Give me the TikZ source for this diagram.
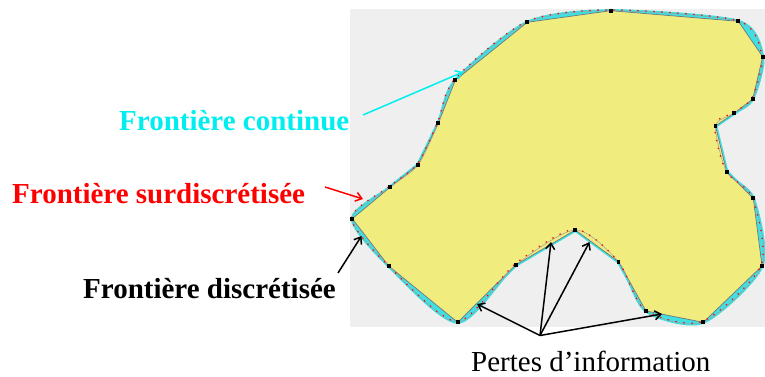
\documentclass[tikz,border=0pt]{standalone}
\usepackage{fontspec}
\setmainfont{Liberation Serif}
\usetikzlibrary{arrows.meta}
\definecolor{bggray}{RGB}{239,239,239}
\definecolor{shapeyellow}{RGB}{240,236,126}
\definecolor{contcyan}{RGB}{64,224,226}
\definecolor{labelcyan}{RGB}{0,238,240}
\definecolor{edgegray}{RGB}{110,120,125}
\tikzset{
  lbl/.style={anchor=base west, inner sep=0pt, font=\fontsize{29}{34}\selectfont\bfseries},
  plainlbl/.style={anchor=base west, inner sep=0pt, font=\fontsize{29}{34}\selectfont},
  ptr/.style={line width=1.5pt, -{Straight Barb[length=6pt,width=9pt]}},
  vtx/.style={rectangle, fill=black, minimum size=3.8pt, inner sep=0pt},
}
\def\contcurve{plot[smooth cycle, tension=0.45] coordinates {(610.7,10.7) (738.3,21.3) (762.7,56.7) (752.7,99) (734,113.3) (715.5,126) (726.7,172) (753.3,198.3) (762,266) (703.3,322.3) (646,311) (618.5,261.7) (575.3,230) (515.7,265) (457.7,322.3) (388.7,266) (352.3,218.7) (390,187.3) (418,165) (438.3,123.3) (455.3,80.3) (527.3,22.3)}}
\def\discpoly{(610.7,10.7) -- (738.3,21.3) -- (762.7,56.7) -- (752.7,99) -- (734,113.3) -- (715.5,126) -- (726.7,172) -- (753.3,198.3) -- (762,266) -- (703.3,322.3) -- (646,311) -- (618.5,261.7) -- (575.3,230) -- (515.7,265) -- (457.7,322.3) -- (388.7,266) -- (352.3,218.7) -- (390,187.3) -- (418,165) -- (438.3,123.3) -- (455.3,80.3) -- (527.3,22.3) -- cycle}
\begin{document}
\begin{tikzpicture}[x=1pt,y=-1pt]
\useasboundingbox (0,0) rectangle (765,377);
\fill[bggray] (350,9) rectangle (765,326.5);
\begin{scope}
  \clip (350,9) rectangle (765,326.5);
  \filldraw[contcyan, line width=3pt, line join=round] \contcurve;
  \draw[contcyan, line width=3.6pt, line join=round] \discpoly;
  \fill[shapeyellow] \discpoly;
  \draw[edgegray, line width=0.7pt] \discpoly;
  \draw[edgegray!70, line width=0.5pt] \contcurve;
  \draw[red, line width=1.8pt, line cap=round, dash pattern=on 0pt off 8pt, shift={(-0.8,-0.8)}] \contcurve;
\end{scope}
\foreach \x/\y [count=\i] in {610.7/10.7, 738.3/21.3, 762.7/56.7, 752.7/99, 734/113.3, 715.5/126, 726.7/172, 753.3/198.3, 762/266, 703.3/322.3, 646/311, 618.5/261.7, 575.3/230, 515.7/265, 457.7/322.3, 388.7/266, 352.3/218.7, 390/187.3, 418/165, 438.3/123.3, 455.3/80.3, 527.3/22.3}
  \node[vtx] (v\i) at (\x,\y) {};
% labels
\node[lbl, text=labelcyan] (lcont) at (119,130) {Frontière continue};
\node[lbl, text=red] (lsur) at (12,203) {Frontière surdiscrétisée};
\node[lbl, text=black] (ldis) at (83,298) {Frontière discrétisée};
\node[plainlbl] (lpert) at (471,371) {Pertes d’information};
% arrow end points
\coordinate (cT) at (363,115);
\coordinate (cH) at (463,72);
\coordinate (sT) at (325,187);
\coordinate (sH) at (363,199);
\coordinate (dT) at (338,273);
\coordinate (dH) at (361.5,236);
\coordinate (pC) at (540,335.5);
\coordinate (p1) at (477,304);
\coordinate (p2) at (551,242);
\coordinate (p3) at (589.5,242);
\coordinate (p4) at (662,314);
\draw[ptr, labelcyan] (cT) -- (cH);
\draw[ptr, red] (sT) -- (sH);
\draw[ptr, black] (dT) -- (dH);
\draw[ptr, black] (pC) -- (p1);
\draw[ptr, black] (pC) -- (p2);
\draw[ptr, black] (pC) -- (p3);
\draw[ptr, black] (pC) -- (p4);
\end{tikzpicture}
\end{document}
